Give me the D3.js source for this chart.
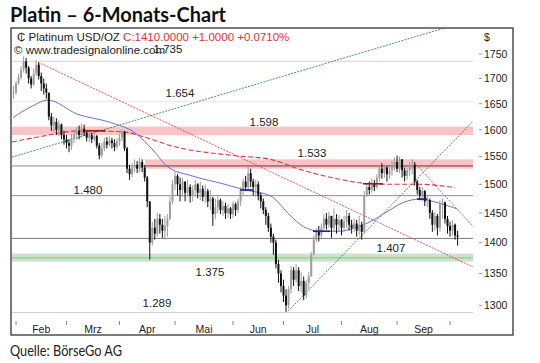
<!DOCTYPE html>
<html><head><meta charset="utf-8">
<script src="https://cdn.jsdelivr.net/npm/d3@7"></script>
<style>body{margin:0;background:#fff}svg{display:block}</style>
</head><body><svg id="c" width="540" height="363"></svg>
<script>
// ---------- DATA ----------
const startDate = "2013-01-31"; // first trading day shown
const closes = [1672,1690,1702,1718,1735,1722,1700,1688,1710,1728,
1705,1690,1680,1672,1625,1608,1615,1600,1610,1590,
1582,1575,1570,1585,1592,1598,1590,1602,1595,1585,
1590,1582,1588,1570,1552,1565,1578,1572,1580,1575,
1568,1578,1585,1596,1565,1528,1518,1530,1535,1528,
1540,1530,1512,1470,1400,1425,1415,1440,1430,1420,
1428,1440,1470,1500,1515,1500,1490,1505,1485,1495,
1480,1490,1500,1485,1492,1478,1488,1470,1475,1448,
1460,1472,1455,1462,1450,1458,1448,1465,1455,1470,
1490,1505,1495,1520,1505,1495,1500,1480,1470,1455,
1445,1425,1410,1400,1365,1350,1330,1315,1300,1325,
1355,1340,1355,1330,1338,1315,1335,1345,1380,1405,
1418,1412,1425,1440,1430,1445,1425,1440,1430,1438,
1425,1435,1445,1430,1425,1432,1420,1430,1418,1480,
1495,1490,1500,1495,1512,1528,1520,1530,1518,1525,
1535,1540,1528,1545,1525,1515,1525,1530,1535,1505,
1490,1480,1488,1470,1472,1450,1430,1445,1425,1465,
1468,1440,1428,1420,1430,1412,1410];
const highs = [1685,1695,1710,1725,1745,1742,1725,1705,1720,1737,
1732,1712,1700,1690,1670,1632,1625,1622,1618,1612,
1598,1590,1582,1592,1600,1605,1608,1612,1610,1600,
1598,1594,1596,1590,1575,1575,1585,1586,1588,1585,
1582,1584,1592,1600,1598,1568,1535,1538,1545,1542,
1548,1545,1535,1515,1470,1435,1440,1450,1448,1440,
1445,1448,1478,1508,1522,1518,1512,1512,1505,1508,
1500,1498,1508,1502,1505,1498,1500,1492,1490,1478,
1475,1480,1475,1470,1468,1466,1460,1470,1468,1475,
1495,1510,1515,1532,1528,1510,1508,1505,1485,1475,
1460,1450,1432,1415,1405,1372,1355,1340,1325,1330,
1362,1360,1365,1360,1352,1345,1340,1352,1385,1412,
1425,1428,1432,1448,1450,1452,1445,1458,1448,1446,
1440,1445,1455,1450,1438,1440,1438,1445,1435,1488,
1502,1505,1510,1508,1518,1535,1538,1535,1532,1530,
1542,1548,1552,1550,1545,1530,1530,1540,1545,1540,
1508,1495,1495,1490,1480,1475,1455,1452,1448,1472,
1475,1470,1445,1435,1438,1432,1420];
const lows = [1660,1668,1688,1698,1712,1710,1690,1680,1685,1705,
1698,1675,1668,1660,1618,1598,1595,1590,1588,1582,
1572,1565,1558,1562,1575,1580,1582,1585,1588,1578,
1577,1575,1578,1565,1545,1548,1560,1565,1568,1565,
1560,1563,1570,1578,1560,1520,1508,1512,1522,1520,
1522,1522,1505,1460,1372,1395,1405,1410,1415,1408,
1405,1410,1438,1465,1490,1480,1470,1478,1470,1478,
1468,1470,1478,1475,1472,1470,1468,1460,1455,1428,
1440,1450,1448,1445,1440,1442,1440,1442,1445,1450,
1462,1480,1488,1490,1495,1480,1478,1472,1458,1448,
1430,1418,1400,1380,1358,1335,1320,1305,1290,1295,
1318,1330,1335,1322,1320,1308,1310,1325,1345,1380,
1400,1402,1408,1418,1422,1425,1408,1418,1415,1418,
1412,1418,1425,1420,1415,1418,1410,1412,1405,1415,
1478,1482,1485,1488,1492,1505,1510,1512,1505,1510,
1515,1525,1522,1520,1512,1505,1508,1515,1518,1498,
1482,1472,1470,1462,1460,1440,1418,1420,1412,1418,
1440,1432,1415,1410,1412,1405,1395];

const monthLabels = ["Feb","Mrz","Apr","Mai","Jun","Jul","Aug","Sep"];
const yTicks = [1300,1350,1400,1450,1500,1550,1600,1650,1700,1750];
const levels = [1735,1654,1598,1533,1480,1407,1375,1289];
const levelLabels = ["1.735","1.654","1.598","1.533","1.480","1.407","1.375","1.289"];

// moving averages: [bar index, price]
const maBlue = [[-0.2,1623],[6.5,1643],[13.7,1657],[25.2,1630],[38.3,1614],[48.2,1594],[55.3,1562],[61.2,1531],[70.8,1515],[83.8,1500],[91.8,1490],[101.7,1480],[109.6,1446],[114.8,1427],[121.5,1419],[129.4,1419],[134.6,1424],[141.3,1435],[148,1452],[154.4,1468],[161.1,1474],[167.9,1468],[175.8,1457]];
const maRed = [[-0.6,1577],[10.5,1587],[26.4,1598],[43.4,1596],[51.3,1587],[63.2,1569],[87,1552],[101.7,1545],[114.8,1525],[128.2,1510],[138.5,1502],[148,1500],[161.1,1500],[175,1494]];
// trend lines: [[idx, price],[idx, price]]
const redTrends = [[[9.7,1733],[184.9,1355]], [[157.9,1544],[184.1,1418]]];
const greenTrends = [[[-0.6,1549],[171,1805]], [[108.8,1291],[184.1,1626]]];
// signal marks on averages: [fromIdx, toIdx, price]
const blueSignals = [[89.8,95,1490],[118.7,125.5,1419],[159.9,163.9,1474]];
const redSignals = [[28.4,36.3,1598],[138.5,146.4,1501]];

// ---------- LAYOUT ----------
const svg = d3.select("#c");
const P = {l:12, r:473, t:28, b:318};
const x = d3.scaleLinear().domain([0, closes.length-1]).range([13.5, 457.6]);
const y = d3.scaleLog().domain([1300,1750]).range([305.3,54]);
const FONT = "'Liberation Sans', Arial, sans-serif";

// dates (trading days)
const dates = [];
{ const d = new Date(startDate+"T12:00:00");
  while (dates.length < closes.length) { if (d.getDay()%6!==0) dates.push(new Date(d)); d.setDate(d.getDate()+1); } }

// title
svg.append("text").attr("x",10).attr("y",22).attr("font-family","Lato, 'Open Sans', sans-serif")
  .attr("font-weight","bold").attr("font-size",20).attr("fill","#111")
  .attr("textLength",216).attr("lengthAdjust","spacingAndGlyphs").text("Platin – 6-Monats-Chart");
svg.append("text").attr("x",10).attr("y",356).attr("font-family","Lato, 'Open Sans', sans-serif")
  .attr("font-size",14.5).attr("fill","#222").attr("textLength",112).attr("lengthAdjust","spacingAndGlyphs")
  .text("Quelle: BörseGo AG");

const defs = svg.append("defs");
defs.append("clipPath").attr("id","pc").append("rect").attr("x",P.l).attr("y",P.t).attr("width",P.r-P.l).attr("height",P.b-P.t);
const g = svg.append("g").attr("clip-path","url(#pc)");

// levels: bands and lines
const bandG = g.append("g");
bandG.append("rect").attr("x",P.l).attr("width",P.r-P.l).attr("y",y(1606)).attr("height",y(1590)-y(1606)).attr("fill","#f8c4c7");
bandG.append("rect").attr("x",x(52.2)).attr("width",P.r-x(52.2)).attr("y",y(1545)).attr("height",y(1528)-y(1545)).attr("fill","#f8c4c7");
bandG.append("rect").attr("x",P.l).attr("width",P.r-P.l).attr("y",y(1382)).attr("height",y(1369)-y(1382)).attr("fill","#c9e4c9");
const lineStyle = {1735:["#d4d4d4",1],1654:["#e6e6e6",1],1598:["none",0],1533:["#8a8a8a",1],1480:["#8c8c8c",1],1407:["#7c7c7c",1],1375:["#8fc38f",1],1289:["#d0d0d0",1]};
levels.forEach(v=>{
  const s = lineStyle[v];
  if (s[0]==="none") return;
  g.append("line").attr("x1",P.l).attr("x2",P.r).attr("y1",y(v)).attr("y2",y(v)).attr("stroke",s[0]).attr("stroke-width",s[1]);
});
g.append("line").attr("x1",x(52.2)).attr("x2",P.r).attr("y1",y(1533)).attr("y2",y(1533)).attr("stroke","#b26060").attr("stroke-width",1.3);

// trend lines
redTrends.forEach(t=>g.append("line").attr("x1",x(t[0][0])).attr("y1",y(t[0][1])).attr("x2",x(t[1][0])).attr("y2",y(t[1][1]))
  .attr("stroke","#e0405a").attr("stroke-width",0.9).attr("stroke-dasharray","2,1.2"));
greenTrends.forEach(t=>g.append("line").attr("x1",x(t[0][0])).attr("y1",y(t[0][1])).attr("x2",x(t[1][0])).attr("y2",y(t[1][1]))
  .attr("stroke","#2f8a36").attr("stroke-width",0.9).attr("stroke-dasharray","2,1.2"));

// moving averages
const ln = d3.line().x(d=>x(d[0])).y(d=>y(d[1])).curve(d3.curveMonotoneX);
g.append("path").attr("d",ln(maRed)).attr("fill","none").attr("stroke","#d8383e").attr("stroke-width",1.1).attr("stroke-dasharray","5,2.5");
g.append("path").attr("d",ln(maBlue)).attr("fill","none").attr("stroke","#6d6de0").attr("stroke-width",1);

// candles
const cg = g.append("g");
closes.forEach((c,i)=>{
  const o = i>0 ? closes[i-1] : c;
  const up = c>=o;
  const col = up ? "#9d9d9d" : "#111";
  const xi = x(i);
  cg.append("line").attr("x1",xi).attr("x2",xi).attr("y1",y(highs[i])).attr("y2",y(lows[i])).attr("stroke",col).attr("stroke-width",1);
  const top = y(Math.max(o,c)), bot = y(Math.min(o,c));
  cg.append("rect").attr("x",xi-1).attr("width",2).attr("y",top).attr("height",Math.max(1,bot-top)).attr("fill",col);
});

// signals
blueSignals.forEach(s=>g.append("line").attr("x1",x(s[0])).attr("x2",x(s[1])).attr("y1",y(s[2])).attr("y2",y(s[2])).attr("stroke","#1c1c9c").attr("stroke-width",1.6));
redSignals.forEach(s=>g.append("line").attr("x1",x(s[0])).attr("x2",x(s[1])).attr("y1",y(s[2])).attr("y2",y(s[2])).attr("stroke","#9c1c1c").attr("stroke-width",1.6));

// header texts
const h1 = svg.append("text").attr("x",17).attr("y",40.5).attr("font-family",FONT).attr("font-size",11.5);
h1.append("tspan").attr("fill","#222").text("₵ Platinum USD/OZ ");
h1.append("tspan").attr("fill","#e83030").text("C:1410.0000 +1.0000 +0.0710%");
svg.append("text").attr("x",14).attr("y",53.5).attr("font-family",FONT).attr("font-size",11.5).attr("fill","#222").text("© www.tradesignalonline.com");

// level labels
const labX = [168,180,264,312,88,391,210,157];
const labDy = [-12,-9,-9,-13,-6,10,14,-10];
levels.forEach((v,k)=>{
  svg.append("text").attr("x",labX[k]).attr("y",y(v)+labDy[k]).attr("dy","0.35em").attr("text-anchor","middle")
    .attr("font-family",FONT).attr("font-size",11.5).attr("fill","#222").text(levelLabels[k]);
});

// y axis
svg.append("text").attr("x",484).attr("y",41).attr("font-family",FONT).attr("font-size",10.5).attr("fill","#222").text("$");
yTicks.forEach(v=>{
  svg.append("line").attr("x1",479).attr("x2",482).attr("y1",y(v)).attr("y2",y(v)).attr("stroke","#999");
  svg.append("text").attr("x",484).attr("y",y(v)).attr("dy","0.36em").attr("font-family",FONT).attr("font-size",10.5).attr("fill","#222").text(v);
});

// x axis (month starts)
const mIdx = [];
for (let m=1; m<=9; m++) { const k = dates.findIndex(d=>d.getMonth()===m); mIdx.push(k); }
mIdx.forEach(k=>svg.append("line").attr("x1",x(k)).attr("x2",x(k)).attr("y1",321).attr("y2",325).attr("stroke","#888"));
monthLabels.forEach((t,k)=>{
  const cx = (x(mIdx[k])+x(mIdx[k+1]))/2;
  svg.append("text").attr("x",cx).attr("y",333).attr("text-anchor","middle").attr("font-family",FONT).attr("font-size",10.5).attr("fill","#222").text(t);
});

// frame
svg.append("rect").attr("x",11).attr("y",28).attr("width",502).attr("height",307).attr("fill","none").attr("stroke","#333").attr("stroke-width",1.3);
</script></body></html>
